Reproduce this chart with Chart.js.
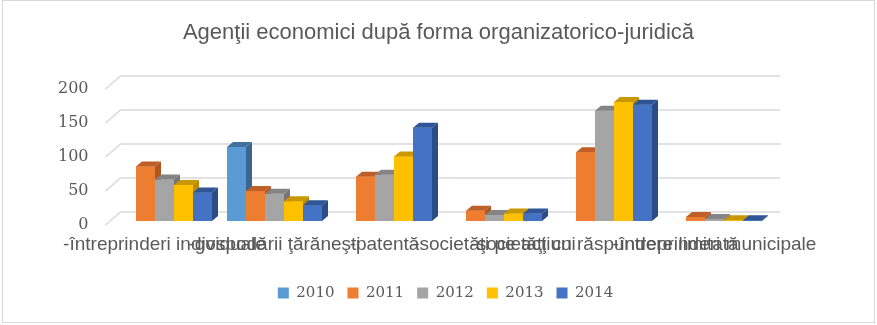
<!DOCTYPE html>
<html lang="ro">
<head>
<meta charset="utf-8">
<title>Agenţii economici</title>
<script src="https://cdn.jsdelivr.net/npm/chart.js@4"></script>
<style>
  html, body { margin: 0; padding: 0; background: #fff; }
  #wrap { width: 877px; height: 325px; }
</style>
</head>
<body>
<div id="wrap"><canvas id="chart" width="877" height="325"></canvas></div>
<script>
/* ── Data ── */
const CATEGORIES = [
  '-întreprinderi individuale',
  '-gospodării ţărăneşti',
  '-patentă',
  '-societăţi pe acţiuni',
  '-societăţi cu răspundere limitată',
  '-întreprinderi municipale'
];
const YEARS = ['2010', '2011', '2012', '2013', '2014'];
const V2010 = [null, 109, null, null, null, null];
const V2011 = [80, 44, 65, 15, 101, 6];
const V2012 = [61, 40, 68, 9, 162, 3];
const V2013 = [53, 29, 95, 11, 175, 1];
const V2014 = [42, 23, 137, 11, 171, 1];
const Y_TICKS = [0, 50, 100, 150, 200];

/* ── Styles ── */
const FRONT = ['#5B9BD5', '#ED7D31', '#A5A5A5', '#FFC000', '#4472C4'];
const TOP   = ['#41719C', '#BE5F27', '#848484', '#C99700', '#2F5597'];
const SIDE  = ['#3A6690', '#AE5520', '#767676', '#B78A00', '#2B4C86'];
const TXT = '#595959';
const DX = 6, DY = 5;          // bar depth
const WALL_X = 11, WALL_Y = 9; // back wall offset
const LEGEND_SHIFT = 7;

/* ── Walls, gridlines, 3D bars ── */
const depth3d = {
  id: 'depth3d',
  afterLayout(chart) {
    chart.legend.left += LEGEND_SHIFT;
    chart.legend.right += LEGEND_SHIFT;
  },
  beforeDraw(chart) {
    const ctx = chart.ctx;
    ctx.save();
    ctx.fillStyle = '#fff';
    ctx.fillRect(0, 0, chart.width, chart.height);
    ctx.strokeStyle = '#d9d9d9';
    ctx.lineWidth = 1;
    ctx.strokeRect(2.5, 0.5, 872, 322);
    ctx.restore();
  },
  beforeDatasetsDraw(chart) {
    const ctx = chart.ctx, y = chart.scales.y, a = chart.chartArea;
    ctx.save();
    ctx.strokeStyle = '#d9d9d9';
    ctx.lineWidth = 1.5;
    Y_TICKS.forEach(v => {
      const py = y.getPixelForValue(v);
      ctx.beginPath();
      ctx.moveTo(a.left - 4, py + 4);
      ctx.lineTo(a.left + WALL_X, py - WALL_Y);
      ctx.lineTo(a.right + WALL_X, py - WALL_Y);
      ctx.stroke();
    });
    ctx.restore();
  },
  afterDatasetsDraw(chart) {
    const ctx = chart.ctx;
    const sets = chart.data.datasets;
    ctx.save();
    // left to right, so each bar covers the side face of the one before it
    CATEGORIES.forEach((_, c) => {
      sets.forEach((ds, i) => {
        if (ds.data[c] == null) return;
        const bar = chart.getDatasetMeta(i).data[c];
        const { x, y, base, width } = bar.getProps(['x', 'y', 'base', 'width'], true);
        const l = x - width / 2, r = x + width / 2;
        ctx.fillStyle = FRONT[i];
        ctx.fillRect(l, y, width, base - y);
        ctx.fillStyle = TOP[i];
        ctx.beginPath();
        ctx.moveTo(l, y); ctx.lineTo(r, y); ctx.lineTo(r + DX, y - DY); ctx.lineTo(l + DX, y - DY);
        ctx.closePath(); ctx.fill();
        ctx.fillStyle = SIDE[i];
        ctx.beginPath();
        ctx.moveTo(r, y); ctx.lineTo(r + DX, y - DY); ctx.lineTo(r + DX, base - DY); ctx.lineTo(r, base);
        ctx.closePath(); ctx.fill();
      });
    });
    ctx.restore();
  }
};

const SERIES = [V2010, V2011, V2012, V2013, V2014];

new Chart(document.getElementById('chart'), {
  type: 'bar',
  data: {
    labels: CATEGORIES,
    datasets: YEARS.map((yr, i) => ({
      label: yr,
      data: SERIES[i],
      backgroundColor: FRONT[i],
      borderWidth: 0,
      categoryPercentage: 95 / 110,
      barPercentage: 1
    }))
  },
  options: {
    responsive: false,
    devicePixelRatio: 1,
    animation: false,
    layout: { padding: { top: 0, left: 0, right: 0, bottom: 14.5 } },
    plugins: {
      title: {
        display: true,
        text: 'Agenţii economici după forma organizatorico-juridică',
        color: TXT,
        font: { family: '"Liberation Sans", Arial, sans-serif', size: 22, weight: 'normal' },
        padding: { top: 19.8, bottom: 38.8 }
      },
      legend: {
        position: 'bottom',
        labels: {
          color: TXT,
          boxWidth: 11,
          boxHeight: 11,
          padding: 13,
          font: { family: '"DejaVu Serif", serif', size: 15 }
        }
      },
      tooltip: { enabled: false }
    },
    scales: {
      x: {
        grid: { display: false, drawTicks: false },
        border: { display: false },
        ticks: {
          color: TXT,
          font: { family: '"Liberation Sans", Arial, sans-serif', size: 19 },
          padding: 12.6,
          maxRotation: 0,
          autoSkip: false
        },
        afterFit: s => { s.height = 51.5; }
      },
      y: {
        min: 0,
        max: 200,
        grid: { display: false, drawTicks: false },
        border: { display: false },
        ticks: {
          stepSize: 50,
          color: TXT,
          padding: 21,
          labelOffset: 4,
          font: { family: '"DejaVu Serif", serif', size: 16 }
        },
        afterFit: s => { s.width = 109.5; }
      },
      yr: {
        type: 'linear',
        position: 'right',
        grid: { display: false, drawTicks: false },
        border: { display: false },
        ticks: { display: false },
        afterFit: s => { s.width = 107.5; }
      }
    }
  },
  plugins: [depth3d]
});
</script>
</body>
</html>
